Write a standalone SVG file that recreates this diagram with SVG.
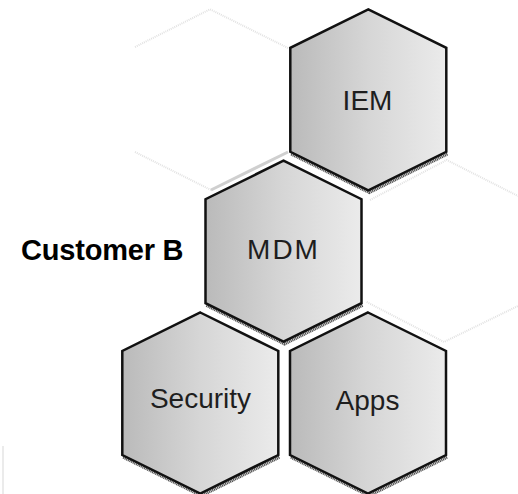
<svg xmlns="http://www.w3.org/2000/svg" width="518" height="494" viewBox="0 0 518 494">
  <defs>
    <linearGradient id="hexFill" x1="0" y1="0" x2="1" y2="0">
      <stop offset="0" stop-color="#bababa"/>
      <stop offset="0.5" stop-color="#d6d6d6"/>
      <stop offset="1" stop-color="#ebebeb"/>
    </linearGradient>
  </defs>
  <style>
    .hex { fill: url(#hexFill); stroke: #111; stroke-width: 2.5; stroke-linejoin: miter; }
    .shadow { fill: none; stroke: #555; stroke-width: 3.5; stroke-dasharray: 1.2 0.6; }
    .ghost { fill: none; stroke: #e2e2e2; stroke-width: 2; stroke-dasharray: 1 1; }
    .ghost2 { fill: none; stroke: #cfcfcf; stroke-width: 3; }
    .lbl { font-family: "Liberation Sans", Arial, sans-serif; font-size: 28px; fill: #1e1e1e; text-anchor: middle; }
    .cust { font-family: "Liberation Sans", Arial, sans-serif; font-size: 29px; font-weight: bold; fill: #000; letter-spacing: -0.2px; }
  </style>

  <g id="background-ghosts">
    <polyline class="ghost" points="135,47 210,9.3 288,48"/>
    <polyline class="ghost" points="135,152 211,190"/>
    <polyline class="ghost2" points="211,190 288,152"/>
    <polyline class="ghost" points="370,200 446.7,160 518,196"/>
    <polyline class="ghost" points="366.7,302 444,342 518,306"/>
    <line x1="3" y1="446" x2="3" y2="494" stroke="#e4e4e4" stroke-width="1.5"/>
  </g>

  <g id="connectors"></g>

  <g id="node-iem">
    <polyline class="shadow" points="291.3,153.8 369.3,192.3 447.3,153.8"/>
    <polygon class="hex" points="368.3,9.3 446.3,47.8 446.3,151.8 368.3,190.3 290.3,151.8 290.3,47.8"/>
    <text class="lbl" x="367.5" y="110">IEM</text>
  </g>

  <g id="node-mdm">
    <polyline class="shadow" points="206.5,305.2 284.5,343.7 362.5,305.2"/>
    <polygon class="hex" points="283.5,160.7 361.5,199.2 361.5,303.2 283.5,341.7 205.5,303.2 205.5,199.2"/>
    <text class="lbl" x="283.5" y="259" letter-spacing="2">MDM</text>
  </g>

  <g id="node-security">
    <polyline class="shadow" points="123.3,457 201.3,495.5 279.3,457"/>
    <polygon class="hex" points="200.3,312.5 278.3,351 278.3,455 200.3,493.5 122.3,455 122.3,351"/>
    <text class="lbl" x="200.5" y="408">Security</text>
  </g>

  <g id="node-apps">
    <polyline class="shadow" points="291,457 369,495.5 447,457"/>
    <polygon class="hex" points="368,312.5 446,351 446,455 368,493.5 290,455 290,351"/>
    <text class="lbl" x="367.5" y="410">Apps</text>
  </g>

  <g id="label-customer-b">
    <text class="cust" x="21" y="260">Customer B</text>
  </g>
</svg>
